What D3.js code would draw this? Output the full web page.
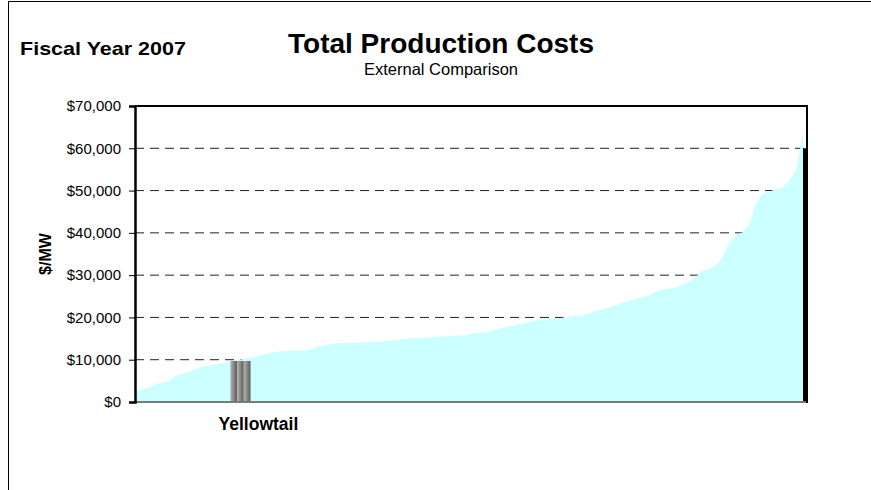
<!DOCTYPE html>
<html>
<head>
<meta charset="utf-8">
<script src="https://cdn.jsdelivr.net/npm/d3@7/dist/d3.min.js"></script>
<style>
  html, body { margin: 0; padding: 0; background: #fff; }
  svg { display: block; font-family: "Liberation Sans", Arial, sans-serif; }
</style>
</head>
<body>
<svg id="chart" width="871" height="490"></svg>
<script>
// ---- data ----
const costs = [
  2600, 3000, 3500, 4300, 4550, 5000, 6250, 6700, 7150, 7900,
  8450, 8650, 8900, 9250, 9550, 9900, 10250, 10550, 10850, 11150,
  11700, 11950, 12050, 12100, 12200, 12250, 12400, 13150, 13450, 13700,
  13900, 13980, 14030, 14080, 14150, 14200, 14250, 14400, 14550, 14750,
  14950, 15080, 15150, 15250, 15350, 15450, 15550, 15650, 15750, 15850,
  16250, 16400, 16480, 16900, 17400, 17800, 18100, 18450, 18800, 19200,
  19450, 19600, 19750, 19850, 20050, 20200, 20350, 20800, 21500, 21900,
  22200, 22700, 23400, 23850, 24300, 24800, 25050, 26000, 26600, 26800,
  27000, 27700, 28300, 29500, 30900, 31400, 32200, 34000, 37600, 39500,
  40100, 42000, 46800, 49300, 49700, 50400, 50700, 52500, 55000, 63500
];
const yellowtailIdx = [14, 15, 16];
const yellowtailVals = [9700, 9700, 9700];
const lastBarValue = 60000;
const yTicks = [0, 10000, 20000, 30000, 40000, 50000, 60000, 70000];
const titleText = "Total Production Costs";
const subtitleText = "External Comparison";
const fiscalText = "Fiscal Year 2007";
const yAxisLabel = "$/MW";
const highlightLabel = "Yellowtail";

// ---- layout ----
const svg = d3.select("#chart");
const L = 135, R = 807, T = 106, B = 402;

const x = d3.scaleLinear().domain([0, costs.length - 1]).range([L + 1, R - 4]);
const y = d3.scaleLinear().domain([0, 70000]).range([B, T]);
const fmt = v => "$" + d3.format(",")(v);

// outer frame
svg.append("rect").attr("x", 8.5).attr("y", 1.5).attr("width", 900).attr("height", 600)
  .attr("fill", "none").attr("stroke", "#000").attr("stroke-width", 1);

// titles
svg.append("text").attr("x", 441).attr("y", 53).attr("text-anchor", "middle")
  .attr("font-size", 28).attr("font-weight", "bold").attr("fill", "#000").text(titleText);
svg.append("text").attr("x", 441).attr("y", 75).attr("text-anchor", "middle")
  .attr("font-size", 16.5).attr("fill", "#000").text(subtitleText);
svg.append("text").attr("x", 20).attr("y", 55)
  .attr("font-size", 19).attr("font-weight", "bold").attr("fill", "#000")
  .attr("textLength", 166).attr("lengthAdjust", "spacingAndGlyphs").text(fiscalText);

// gridlines
svg.append("g").selectAll("line").data(yTicks.filter(t => t > 0 && t < 70000)).join("line")
  .attr("x1", L).attr("x2", R).attr("y1", d => y(d)).attr("y2", d => y(d))
  .attr("stroke", "#222").attr("stroke-width", 1).attr("stroke-dasharray", "9,6");

// area
const area = d3.area().x((d, i) => x(i)).y0(y(0)).y1(d => y(d));
svg.append("path").datum(costs).attr("d", area).attr("fill", "#CCFFFF");

// yellowtail gradient bars
const defs = svg.append("defs");
const grad = defs.append("linearGradient").attr("id", "yt").attr("x1", "0").attr("x2", "1").attr("y1", "0").attr("y2", "0");
grad.append("stop").attr("offset", "0%").attr("stop-color", "#b4b4b4");
grad.append("stop").attr("offset", "100%").attr("stop-color", "#5c5c5c");
svg.append("g").selectAll("rect").data(yellowtailIdx).join("rect")
  .attr("x", d => x(d)).attr("width", d => x(d + 1) - x(d))
  .attr("y", (d, i) => y(yellowtailVals[i])).attr("height", (d, i) => y(0) - y(yellowtailVals[i]))
  .attr("fill", "url(#yt)");

// last (black) bar
const lastI = costs.length - 1;
svg.append("rect").attr("x", x(lastI)).attr("width", x(lastI + 0.6) - x(lastI))
  .attr("y", y(lastBarValue)).attr("height", y(0) - y(lastBarValue)).attr("fill", "#000");

// plot borders
svg.append("line").attr("x1", L).attr("x2", R).attr("y1", B).attr("y2", B).attr("stroke", "#7a7a7a").attr("stroke-width", 2);
svg.append("line").attr("x1", L).attr("x2", R + 1).attr("y1", T).attr("y2", T).attr("stroke", "#000").attr("stroke-width", 2);
svg.append("line").attr("x1", R).attr("x2", R).attr("y1", T).attr("y2", B + 1).attr("stroke", "#000").attr("stroke-width", 2);

// y axis
const yAxis = d3.axisLeft(y).tickValues(yTicks).tickFormat(fmt).tickSize(6).tickPadding(8);
const ga = svg.append("g").attr("transform", `translate(${L},0)`).call(yAxis);
ga.select(".domain").attr("stroke", "#000").attr("stroke-width", 2.5);
ga.selectAll(".tick line").attr("stroke", "#000").attr("stroke-width", 1);
ga.selectAll(".tick text").attr("font-size", 15).attr("fill", "#000")
  .attr("font-family", "'Liberation Sans', Arial, sans-serif");

// axis label
svg.append("text").attr("transform", "translate(45,254) rotate(-90)").attr("text-anchor", "middle")
  .attr("dy", "0.35em").attr("font-size", 16).attr("font-weight", "bold").text(yAxisLabel);

// highlight label
svg.append("text").attr("x", (x(yellowtailIdx[0]) + x(yellowtailIdx[2] + 1)) / 2 + 18).attr("y", 430)
  .attr("text-anchor", "middle").attr("font-size", 17.5).attr("font-weight", "bold").text(highlightLabel);
</script>
</body>
</html>
